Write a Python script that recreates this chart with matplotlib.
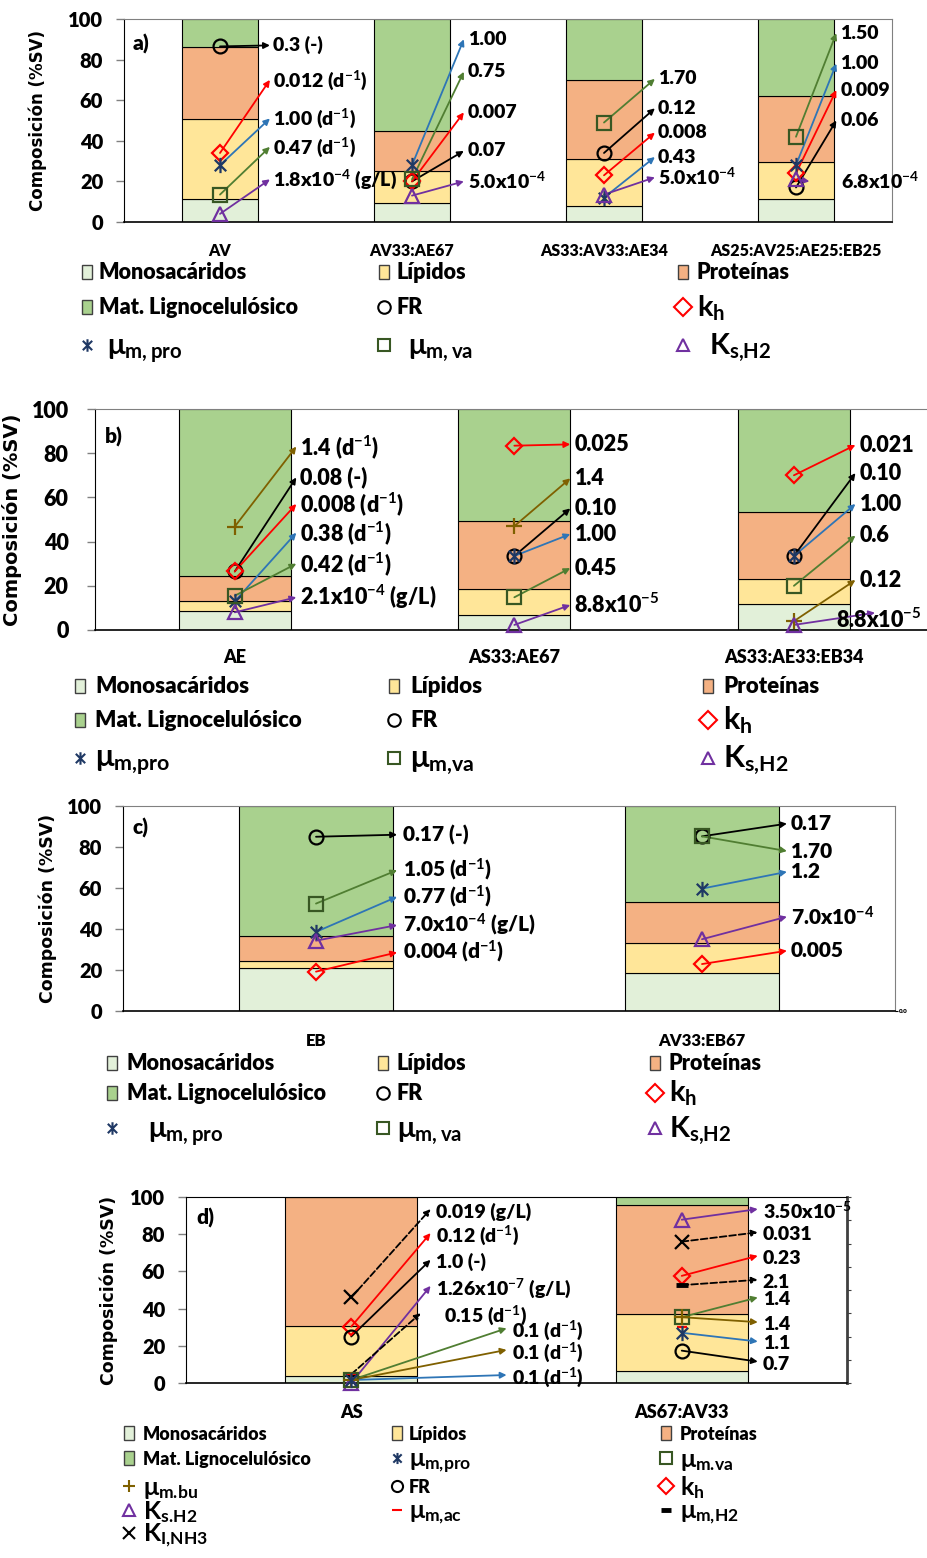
import numpy as np
import matplotlib

matplotlib.use("Agg")
from matplotlib import pyplot as plt
from matplotlib.path import Path
from matplotlib.patches import Rectangle

plt.rcParams['font.family'] = ['Lato', 'DejaVu Sans']
plt.rcParams['font.weight'] = 'heavy'
plt.rcParams['mathtext.fontset'] = 'custom'
plt.rcParams['mathtext.rm'] = 'Lato:bold'
plt.rcParams['mathtext.bf'] = 'Lato:bold'
plt.rcParams['mathtext.it'] = 'Lato:bold'
plt.rcParams['mathtext.sf'] = 'Lato:bold'
plt.rcParams['mathtext.default'] = 'bf'

# ---------------- data ----------------
comp_names = {'mono': 'Monosacáridos', 'lip': 'Lípidos', 'prot': 'Proteínas',
              'ligno': 'Mat. Lignocelulósico'}

# a)
cats_a = ['AV', 'AV33:AE67', 'AS33:AV33:AE34', 'AS25:AV25:AE25:EB25']
mono_a = [11.3, 9.5, 8.0, 11.3]
lip_a = [39.3, 15.5, 23.0, 18.2]
prot_a = [35.4, 20.0, 39.0, 32.5]
ligno_a = [14.0, 55.0, 30.0, 38.0]
fr_a = [86.5, 20, 34, 17]
kh_a = [34, 20, 23, 24]
pro_a = [28, 28, 12, 28]
va_a = [13.5, 21, 49, 42]
ks_a = [4, 13, 13.5, 21]
fr_lab_a = ['0.3 (-)', '0.07', '0.12', '0.06']
kh_lab_a = ['0.012 (d$^{-1}$)', '0.007', '0.008', '0.009']
pro_lab_a = ['1.00 (d$^{-1}$)', '1.00', '0.43', '1.00']
va_lab_a = ['0.47 (d$^{-1}$)', '0.75', '1.70', '1.50']
ks_lab_a = ['1.8x10$^{-4}$ (g/L)', '5.0x10$^{-4}$', '5.0x10$^{-4}$', '6.8x10$^{-4}$']

# b)
cats_b = ['AE', 'AS33:AE67', 'AS33:AE33:EB34']
mono_b = [8.7, 7.0, 11.6]
lip_b = [4.3, 11.5, 11.4]
prot_b = [11.4, 30.8, 30.5]
ligno_b = [75.6, 50.7, 46.5]
bu_b = [46.8, 47, 4]
fr_b = [26.5, 33.5, 33.5]
kh_b = [26.5, 83.4, 70]
pro_b = [13, 33.5, 33.5]
va_b = [15.5, 14.8, 20]
ks_b = [8, 2.3, 2.3]
bu_lab_b = ['1.4 (d$^{-1}$)', '1.4', '0.12']
fr_lab_b = ['0.08 (-)', '0.10', '0.10']
kh_lab_b = ['0.008 (d$^{-1}$)', '0.025', '0.021']
pro_lab_b = ['0.38 (d$^{-1}$)', '1.00', '1.00']
va_lab_b = ['0.42 (d$^{-1}$)', '0.45', '0.6']
ks_lab_b = ['2.1x10$^{-4}$ (g/L)', '8.8x10$^{-5}$', '8.8x10$^{-5}$']

# c)
cats_c = ['EB', 'AV33:EB67']
mono_c = [21, 18.3]
lip_c = [3.5, 14.7]
prot_c = [12.2, 20]
ligno_c = [63.3, 47]
fr_c = [85, 85.2]
va_c = [52.4, 85.2]
pro_c = [38.6, 59.7]
ks_c = [34.3, 35]
kh_c = [19.2, 22.9]
fr_lab_c = ['0.17 (-)', '0.17']
va_lab_c = ['1.05 (d$^{-1}$)', '1.70']
pro_lab_c = ['0.77 (d$^{-1}$)', '1.2']
ks_lab_c = ['7.0x10$^{-4}$ (g/L)', '7.0x10$^{-4}$']
kh_lab_c = ['0.004 (d$^{-1}$)', '0.005']

# d)
cats_d = ['AS', 'AS67:AV33']
mono_d = [4, 6.5]
lip_d = [26.7, 30.7]
prot_d = [69.3, 58.3]
ligno_d = [0, 4.5]
ki_d = [46, 76]
kh_d = [30.3, 57.6]
fr_d = [25, 17.4]
ks_d = [0, 87.8]
h2_d = [4.7, 52.6]
ac_d = [4.7, 30.3]
va_d = [1.6, 35.4]
bu_d = [1.6, 35.4]
pro_d = [1.6, 27]
ki_lab_d = ['0.019 (g/L)', '0.031']
kh_lab_d = ['0.12 (d$^{-1}$)', '0.23']
fr_lab_d = ['1.0 (-)', '0.7']
ks_lab_d = ['1.26x10$^{-7}$ (g/L)', '3.50x10$^{-5}$']
h2_lab_d = ['0.15 (d$^{-1}$)', '2.1']
va_lab_d = ['0.1 (d$^{-1}$)', '1.4']
bu_lab_d = ['0.1 (d$^{-1}$)', '1.4']
pro_lab_d = ['0.1 (d$^{-1}$)', '1.1']

# ---------------- styles ----------------
COL = {'mono': '#E2F0D9', 'lip': '#FFE699', 'prot': '#F4B183', 'ligno': '#A9D18E'}
star = Path([(0, -1), (0, 1), (-0.75, -0.75), (0.75, 0.75), (-0.75, 0.75), (0.75, -0.75)],
            [Path.MOVETO, Path.LINETO, Path.MOVETO, Path.LINETO, Path.MOVETO, Path.LINETO])
MK = {
    'fr': dict(marker='o', mec='black', ms=10),
    'kh': dict(marker='D', mec='#FF0000', ms=8),
    'pro': dict(marker=star, mec='#1F3864', ms=11),
    'va': dict(marker='s', mec='#385723', ms=10),
    'ks': dict(marker='^', mec='#7030A0', ms=10),
    'bu': dict(marker='+', mec='#7F6000', ms=11),
    'ki': dict(marker='x', mec='black', ms=10),
    'ac': dict(marker='_', mec='#FF0000', ms=7),
    'h2': dict(marker='_', mec='black', ms=8),
}
ARROW = {'fr': 'black', 'kh': '#FF0000', 'pro': '#2E75B6', 'va': '#507E32',
         'ks': '#7030A0', 'bu': '#7F6000', 'ki': 'black', 'h2': 'black'}
DASHED = ('ki', 'h2')

W, H = 927, 1558
fig = plt.figure(figsize=(W / 100, H / 100), dpi=100)


def px_axes(l, t, r, b):
    return fig.add_axes([l / W, 1 - b / H, (r - l) / W, (b - t) / H])


def draw_panel(ax, cats, stacks, marks, labs, tips, tip_dx, txt_dx, fs, over=None, txt_dy=0.0):
    over = over or {}
    x = np.arange(len(cats))
    bottom = np.zeros(len(cats))
    for key, vals in stacks:
        ax.bar(x, vals, 0.4, bottom=bottom, color=COL[key], edgecolor='black',
               linewidth=0.8, zorder=2)
        bottom += np.array(vals, dtype=float)
    for key, ys in marks:
        for i, y in enumerate(ys):
            lab = labs.get(key)
            if lab is not None:
                o = over.get((key, i), {})
                tx = i + o.get('tdx', tip_dx[i])
                ty = tips[key][i]
                ax.annotate('', xy=(tx, ty), xytext=(i, y),
                            arrowprops=dict(arrowstyle='-|>', color=ARROW[key], lw=1.3,
                                            shrinkA=0, shrinkB=0, mutation_scale=9,
                                            linestyle='--' if key in DASHED else '-'),
                            zorder=4)
                ax.text(i + o.get('xdx', txt_dx[i]), o.get('ty', ty + txt_dy), lab[i],
                        fontsize=fs, ha='left', va='center', zorder=6, clip_on=False)
            mew = 3.5 if key == 'h2' else 1.6
            ax.plot(i, y, linestyle='none', mfc='none', mew=mew, zorder=5, clip_on=False,
                    **MK[key])
    ax.set_xticks(x)
    ax.set_ylim(0, 100)
    ax.set_yticks(range(0, 101, 20))
    ax.tick_params(axis='y', length=6, width=1, color='#808080', pad=9)
    ax.tick_params(axis='x', length=0)
    for s in ax.spines.values():
        s.set_color('#808080')
    ax.spines['left'].set_color('black')
    ax.spines['bottom'].set_color('black')
    ax.spines['bottom'].set_linewidth(1.2)


def yl(ax, xpx, l, r, fs):
    ax.set_ylabel('Composición (%SV)', fontsize=fs, family='DejaVu Sans', weight='bold')
    ax.yaxis.set_label_coords((xpx - l) / (r - l), 0.5)


# ---------------- a) ----------------
la, ra = 124, 892
ax_a = px_axes(la, 19, ra, 222)
ax_a.set_xlim(-0.5, 3.5)
draw_panel(ax_a, cats_a,
           [('mono', mono_a), ('lip', lip_a), ('prot', prot_a), ('ligno', ligno_a)],
           [('fr', fr_a), ('kh', kh_a), ('pro', pro_a), ('va', va_a), ('ks', ks_a)],
           {'fr': fr_lab_a, 'kh': kh_lab_a, 'pro': pro_lab_a, 'va': va_lab_a, 'ks': ks_lab_a},
           {'fr': [87, 35, 56, 50], 'kh': [70, 54, 44, 65], 'pro': [51, 90, 32, 78],
            'va': [37, 74, 70.5, 93], 'ks': [21, 20, 22, 20]},
           [0.26, 0.27, 0.265, 0.21], [0.275, 0.29, 0.28, 0.23], 14,
           over={('ks', 3): dict(tdx=0.07, xdx=0.235)})
ax_a.set_xticklabels(cats_a, fontsize=11.5)
ax_a.tick_params(axis='x', pad=15)
ax_a.tick_params(axis='y', labelsize=14.5)
yl(ax_a, 47, la, ra, 12)

# ---------------- b) ----------------
lb, rb = 95, 927
ax_b = px_axes(lb, 409, rb, 630)
ax_b.set_xlim(-0.5, 2.476)
draw_panel(ax_b, cats_b,
           [('mono', mono_b), ('lip', lip_b), ('prot', prot_b), ('ligno', ligno_b)],
           [('bu', bu_b), ('fr', fr_b), ('kh', kh_b), ('pro', pro_b), ('va', va_b), ('ks', ks_b)],
           {'bu': bu_lab_b, 'fr': fr_lab_b, 'kh': kh_lab_b, 'pro': pro_lab_b, 'va': va_lab_b,
            'ks': ks_lab_b},
           {'bu': [83, 68.6, 22.6], 'fr': [69, 55, 71], 'kh': [57, 84, 83.7],
            'pro': [44, 43.4, 57], 'va': [30, 28, 42.7], 'ks': [14.8, 11.3, 7.8]},
           [0.22, 0.2, 0.22], [0.235, 0.215, 0.235], 15.5,
           over={('ks', 2): dict(tdx=0.29, xdx=0.15, ty=4.5)})
ax_b.spines['right'].set_visible(False)
ax_b.set_xticklabels(cats_b, fontsize=13)
ax_b.tick_params(axis='x', pad=14)
ax_b.tick_params(axis='y', labelsize=15.5, pad=13)
yl(ax_b, 22, lb, rb, 14)

# ---------------- c) ----------------
lc, rc = 123, 895
ax_c = px_axes(lc, 806, rc, 1011)
ax_c.set_xlim(-0.5, 1.5)
draw_panel(ax_c, cats_c,
           [('mono', mono_c), ('lip', lip_c), ('prot', prot_c), ('ligno', ligno_c)],
           [('fr', fr_c), ('va', va_c), ('pro', pro_c), ('ks', ks_c), ('kh', kh_c)],
           {'fr': fr_lab_c, 'va': va_lab_c, 'pro': pro_lab_c, 'ks': ks_lab_c, 'kh': kh_lab_c},
           {'fr': [86, 91.4], 'va': [68.7, 78], 'pro': [55.7, 67.9], 'ks': [41.9, 46],
            'kh': [28.6, 29.4]},
           [0.21, 0.22], [0.225, 0.23], 15)
ax_c.set_xticklabels(cats_c, fontsize=12)
ax_c.tick_params(axis='x', pad=16)
ax_c.tick_params(axis='y', labelsize=14.5)
yl(ax_c, 57, lc, rc, 12.5)
ax_c2 = ax_c.twinx()
ax_c2.set_ylim(0, 1)
ax_c2.set_yticks([0])
ax_c2.set_yticklabels(['0.0'], fontsize=4.5)
ax_c2.tick_params(axis='y', length=2, pad=1)
for s in ax_c2.spines.values():
    s.set_visible(False)

# ---------------- d) ----------------
ld, rd = 186, 847
ax_d = px_axes(ld, 1197, rd, 1383)
ax_d.set_xlim(-0.5, 1.5)
draw_panel(ax_d, cats_d,
           [('mono', mono_d), ('lip', lip_d), ('prot', prot_d), ('ligno', ligno_d)],
           [('ki', ki_d), ('kh', kh_d), ('fr', fr_d), ('ks', ks_d), ('h2', h2_d), ('ac', ac_d),
            ('va', va_d), ('bu', bu_d), ('pro', pro_d)],
           {'ki': ki_lab_d, 'kh': kh_lab_d, 'fr': fr_lab_d, 'ks': ks_lab_d, 'h2': h2_lab_d,
            'va': va_lab_d, 'bu': bu_lab_d, 'pro': pro_lab_d},
           {'ki': [93.5, 81], 'kh': [80.6, 68.4], 'fr': [66.2, 11.5], 'ks': [52.2, 93.5],
            'h2': [37.5, 55.5], 'va': [29.4, 46], 'bu': [17.8, 32.7], 'pro': [4.3, 22.3]},
           [0.24, 0.23], [0.255, 0.245], 14, txt_dy=-1.3,
           over={('h2', 0): dict(tdx=0.21, xdx=0.28, ty=36.2),
                 ('va', 0): dict(tdx=0.47, xdx=0.485, ty=28.1),
                 ('bu', 0): dict(tdx=0.47, xdx=0.485, ty=16.5),
                 ('pro', 0): dict(tdx=0.47, xdx=0.485, ty=3.0)})
ax_d.spines['right'].set_color('#404040')
ax_d.spines['right'].set_linewidth(2)
ax_d.spines['top'].set_color('black')
ax_d.set_xticklabels(cats_d, fontsize=13)
ax_d.tick_params(axis='x', pad=15)
ax_d.tick_params(axis='y', labelsize=14.5)
yl(ax_d, 118, ld, rd, 12.5)
ax_d2 = ax_d.twinx()
ax_d2.set_ylim(0, 8)
ax_d2.set_yticks(range(9))
ax_d2.set_yticklabels([])
ax_d2.tick_params(axis='y', length=3, color='#404040')
for s in ax_d2.spines.values():
    s.set_visible(False)

# ---------------- overlay: panel letters and legends ----------------
ov = fig.add_axes([0, 0, 1, 1])
ov.set_xlim(0, W)
ov.set_ylim(H, 0)
ov.axis('off')
ov.patch.set_alpha(0)

for lab, (px, py) in zip(['a)', 'b)', 'c)', 'd)'], [(133, 44), (105, 437), (133, 828), (196, 1218)]):
    ov.text(px, py, lab, fontsize=15, va='center', ha='left')


def legend(keys, names, mx, tx, rows, fs, fs_big, ms=9, tx_row=None):
    tx_row = tx_row or {}
    for n, key in enumerate(keys):
        r, c = divmod(n, 3)
        y = rows[r]
        if key in COL:
            ov.add_patch(Rectangle((mx[c] - 5, y - 7), 10, 14, fc=COL[key], ec='#404040', lw=1))
        else:
            st = dict(MK[key])
            st['ms'] = ms if key not in ('ac', 'h2') else 7
            mew = 3.5 if key == 'h2' else 1.5
            ov.plot(mx[c], y, linestyle='none', mfc='none', mew=mew, **st)
        name = names[key]
        big = name.startswith('$')
        xx = tx_row.get(r, tx)[c]
        ov.text(xx, y + (9 if big else 7), name, fontsize=fs_big if big else fs,
                va='baseline', ha='left')


keys3 = ['mono', 'lip', 'prot', 'ligno', 'fr', 'kh', 'pro', 'va', 'ks']
names_sp = dict(comp_names, fr='FR', kh='$k_h$', pro=r'$μ_{m,pro}$', va=r'$μ_{m,va}$',
                ks='$K_{s{,}H2}$')
names_b = dict(comp_names, fr='FR', kh='$k_h$', pro='$μ_{m{,}pro}$', va='$μ_{m{,}va}$',
               ks='$K_{s{,}H2}$')
names_d = dict(comp_names, fr='FR', kh='$k_h$', pro='$μ_{m{,}pro}$', va=r'$μ_{m.\!va}$',
               ks=r'$K_{s.\!H2}$', bu=r'$μ_{m.\!bu}$', ac='$μ_{m{,}ac}$', h2='$μ_{m{,}H2}$',
               ki='$K_{I{,}NH3}$')

legend(keys3, names_sp, [87, 384, 683], [99, 397, 697], [272, 307, 345], 15.5, 21,
       tx_row={2: [107, 408, 709]})
legend(keys3, names_b, [80, 394, 708], [95, 410, 723], [686, 720, 758], 16, 22)
legend(keys3, names_sp, [112, 383, 655], [127, 397, 669], [1063, 1093, 1128], 15.5, 21,
       tx_row={2: [148, 397, 669]})
legend(['mono', 'lip', 'prot', 'ligno', 'pro', 'va', 'bu', 'fr', 'kh', 'ks', 'ac', 'h2', 'ki'],
       names_d, [129, 397, 666], [143, 409, 680], [1433, 1458, 1486, 1510, 1533], 13, 18, ms=8)

fig.savefig('out.png', dpi=100)
